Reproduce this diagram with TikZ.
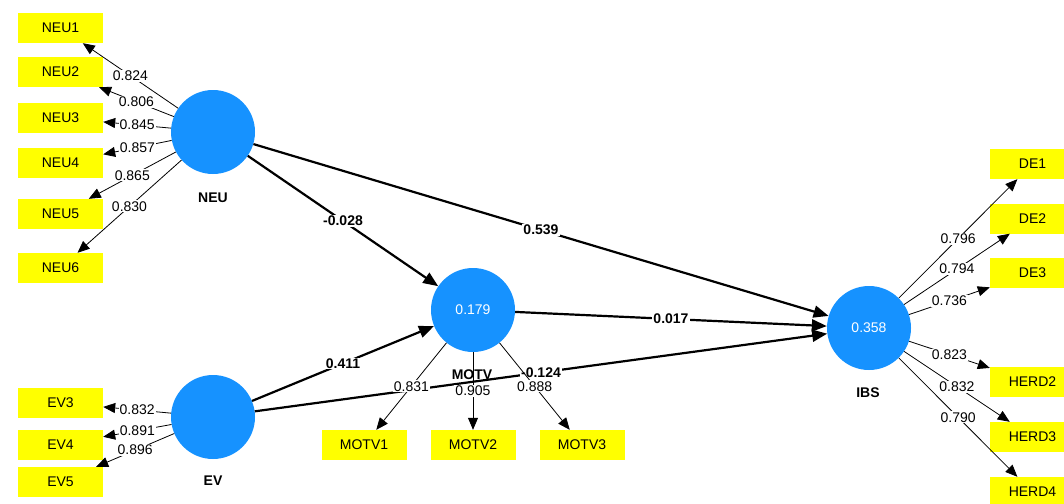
\documentclass[tikz,border=0pt]{standalone}
\usepackage{fontspec}
\setmainfont{Liberation Sans}
\usepackage{tikz}
\usetikzlibrary{arrows.meta}

\definecolor{lvblue}{RGB}{22,146,255}
\definecolor{mvyellow}{RGB}{255,255,0}

\begin{document}
\begin{tikzpicture}[x=1pt,y=-1pt,
  font=\fontsize{14}{16}\selectfont,
  lv/.style={circle,fill=lvblue,minimum size=84pt,inner sep=0pt,text=white},
  mv/.style={rectangle,fill=mvyellow,minimum width=85pt,minimum height=30pt,inner sep=0pt},
  loadarr/.style={-{Triangle[length=12pt,width=10pt]},line width=0.8pt},
  structarr/.style={-{Triangle[length=15pt,width=12pt]},line width=2.2pt},
  lbl/.style={fill=white,inner sep=1pt},
  coef/.style={fill=white,inner sep=1pt,font=\fontsize{14}{16}\selectfont\bfseries},
  lvname/.style={font=\fontsize{14}{16}\selectfont\bfseries}
]

\useasboundingbox (0,0) rectangle (1064,503);

% latent variables
\node[lv] (NEU) at (213,132) {};
\node[lv] (EV) at (213,417) {};
\node[lv] (MOTV) at (473,310) {0.179};
\node[lv] (IBS) at (869,328) {0.358};

% indicators
\foreach \name/\y in {NEU1/28,NEU2/72,NEU3/118,NEU4/163,NEU5/214,NEU6/268}
  \node[mv] (\name) at (60.5,\y) {\name};
\foreach \name/\y in {EV3/403,EV4/444.5,EV5/482}
  \node[mv] (\name) at (60.5,\y) {\name};
\foreach \name/\x in {MOTV1/364,MOTV2/473,MOTV3/582}
  \node[mv] (\name) at (\x,445) {\name};
\foreach \name/\y in {DE1/164,DE2/218.5,DE3/273,HERD2/382,HERD3/437,HERD4/492}
  \node[mv] (\name) at (1032.5,\y) {\name};

% inner model
\draw[structarr] (NEU) -- (MOTV) node[coef,midway] {-0.028};
\draw[structarr] (NEU) -- (IBS) node[coef,midway] {0.539};
\draw[structarr] (EV) -- (MOTV) node[coef,midway] {0.411};
\draw[structarr] (EV) -- (IBS) node[coef,midway] {-0.124};
\draw[structarr] (MOTV) -- (IBS) node[coef,midway] {0.017};

% outer model
\foreach \name/\val in {NEU1/0.824,NEU2/0.806,NEU3/0.845,NEU4/0.857,NEU5/0.865,NEU6/0.830}
  \draw[loadarr] (NEU) -- (\name) node[lbl,midway] {\val};
\foreach \name/\val in {EV3/0.832,EV4/0.891,EV5/0.896}
  \draw[loadarr] (EV) -- (\name) node[lbl,midway] {\val};
\foreach \name/\val in {MOTV1/0.831,MOTV2/0.905,MOTV3/0.888}
  \draw[loadarr] (MOTV) -- (\name) node[lbl,midway] {\val};
\foreach \name/\val in {DE1/0.796,DE2/0.794,DE3/0.736,HERD2/0.823,HERD3/0.832,HERD4/0.790}
  \draw[loadarr] (IBS) -- (\name) node[lbl,midway] {\val};

% names
\node[lvname] (NEUname) at (213,198) {NEU};
\node[lvname] (EVname) at (213,481) {EV};
\node[lvname] (MOTVname) at (472,375) {MOTV};
\node[lvname] (IBSname) at (868,393) {IBS};

\end{tikzpicture}
\end{document}
